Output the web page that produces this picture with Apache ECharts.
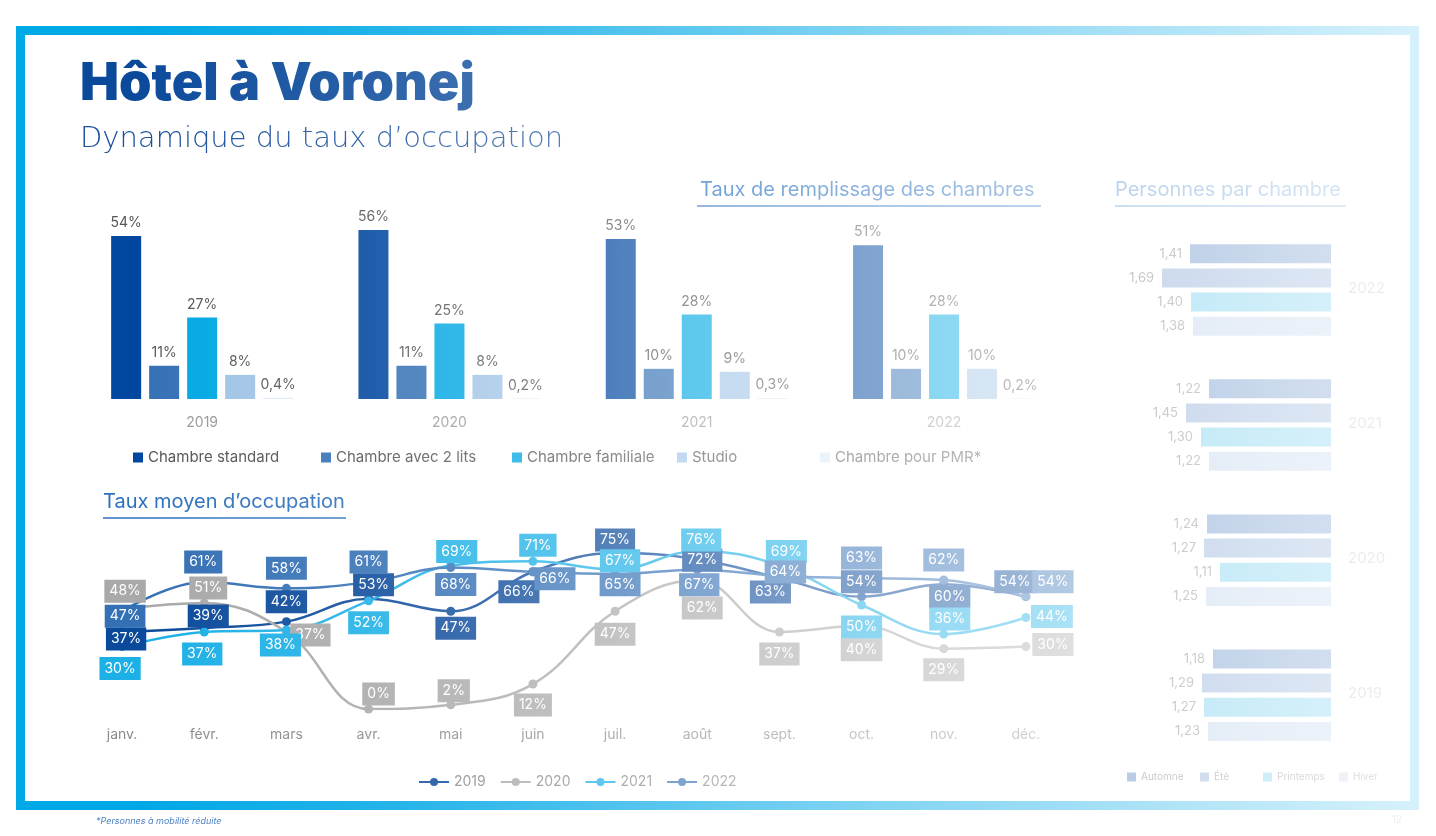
<!DOCTYPE html>
<html><head><meta charset="utf-8">
<script src="https://cdn.jsdelivr.net/npm/echarts@6/dist/echarts.min.js"></script>
<style>
html,body{margin:0;padding:0;background:#fff;}
#c{width:1436px;height:836px;position:absolute;left:0;top:0;}
#fade{position:absolute;left:0;top:0;width:1436px;height:836px;pointer-events:none;
background:linear-gradient(to right, rgba(255,255,255,0) 130px, rgba(255,255,255,0.13) 373px, rgba(255,255,255,0.5) 868px, rgba(255,255,255,0.85) 1436px);}
</style></head><body>
<div id="c"></div><div id="fade"></div>
<script>
// ---------- data ----------
const years = ['2019', '2020', '2021', '2022'];
const roomTypes = ['Chambre standard', 'Chambre avec 2 lits', 'Chambre familiale', 'Studio', 'Chambre pour PMR*'];
const fillStandard = [54, 56, 53, 51];
const fill2Lits = [11, 11, 10, 10];
const fillFamiliale = [27, 25, 28, 28];
const fillStudio = [8, 8, 9, 10];
const fillPMR = [0.4, 0.2, 0.3, 0.2];

const months = ['janv.', 'févr.', 'mars', 'avr.', 'mai', 'juin', 'juil.', 'août', 'sept.', 'oct.', 'nov.', 'déc.'];
const occ2019 = [37, 39, 42, 53, 47, 66, 75, 72, 63, 54, 60, 54];
const occ2020 = [48, 51, 37, 0, 2, 12, 47, 62, 37, 40, 29, 30];
const occ2021 = [30, 37, 38, 52, 69, 71, 67, 76, 69, 50, 36, 44];
const occ2022 = [47, 61, 58, 61, 68, 66, 65, 67, 64, 63, 62, 54];

const seasons = ['Automne', 'Été', 'Printemps', 'Hiver'];
const pers2019 = [1.18, 1.29, 1.27, 1.23];
const pers2020 = [1.24, 1.27, 1.11, 1.25];
const pers2021 = [1.22, 1.45, 1.30, 1.22];
const pers2022 = [1.41, 1.69, 1.40, 1.38];

// ---------- styles ----------
const FONT = 'Inter, "Open Sans", sans-serif';
const WIDE = '"DejaVu Sans", Inter, sans-serif';
const fmtPct = v => String(v).replace('.', ',') + '%';
const fmtDec = v => v.toFixed(2).replace('.', ',');

const barColors = ['#0047a0', '#3471b5', '#00a8e3', '#a0c4e6', '#dceaf8'];
const barSeriesData = [fillStandard, fill2Lits, fillFamiliale, fillStudio, fillPMR];
const barLegendLeft = [133, 321, 512, 677, 820];

const lineColors = ['#0b4a9b', '#a9a9a9', '#1cb0e6', '#3470b5'];
const lineSeriesData = [occ2019, occ2020, occ2021, occ2022];
const lineLabelOffsets = [
  [[4,7],[4,-12],[0,-20],[5,-14],[5,17],[-14,20],[0,-13],[5,1],[-9,14],[0,-15],[6,13],[-11,-15]],
  [[3,-18],[4,-15],[24,3],[10,-15],[3,-14],[0,21],[0,23],[5,28],[0,22],[0,24],[0,21],[27,-2]],
  [[-2,22],[-2,22],[-6,15],[0,22],[6,-14],[5,-16],[5,-9],[4,-11],[7,-14],[0,22],[6,-15],[26,-1]],
  [[3,5],[-1,-20],[0,-20],[0,-20],[5,17],[22,7],[5,11],[2,15],[6,-4],[0,-20],[0,-20],[27,-15]]
];

const seasonColors = ['#3069b4', '#628dc9', '#3ebbe6', '#a6c2e2'];
const persByYear = [pers2022, pers2021, pers2020, pers2019];
const persYearLabels = ['2022', '2021', '2020', '2019'];
const persGridTop = [241.6, 376.6, 511.8, 646.8];
const seasonLegendLeft = [1127, 1200, 1263, 1339];

// ---------- build option ----------
const grids = [
  { left: 78.5, width: 989.2, top: 218, height: 181 },
  { left: 81, width: 986, top: 501, height: 208 }
];
const xAxes = [
  { type: 'category', gridIndex: 0, data: years, axisLine: { show: false }, axisTick: { show: false },
    axisLabel: { color: '#999', fontSize: 14, fontFamily: FONT, margin: 17 } },
  { type: 'category', gridIndex: 1, data: months, boundaryGap: true, axisLine: { show: false }, axisTick: { show: false },
    axisLabel: { color: '#8a8a8a', fontSize: 14, fontFamily: FONT, margin: 19 } }
];
const yAxes = [
  { type: 'value', gridIndex: 0, min: 0, max: 60, show: false },
  { type: 'value', gridIndex: 1, min: 0, max: 100, show: false }
];
const series = [];

roomTypes.forEach((name, i) => {
  series.push({
    name, type: 'bar', xAxisIndex: 0, yAxisIndex: 0, data: barSeriesData[i],
    barWidth: 30, barGap: '26.67%',
    itemStyle: { color: barColors[i] },
    label: { show: true, position: 'top', distance: 6, color: '#555', fontSize: 14, fontFamily: FONT,
      formatter: p => fmtPct(p.value) }
  });
});

years.forEach((name, i) => {
  series.push({
    name, type: 'line', xAxisIndex: 1, yAxisIndex: 1, smooth: 0.4,
    symbol: 'circle', symbolSize: 9,
    lineStyle: { color: lineColors[i], width: 2.5 },
    itemStyle: { color: lineColors[i] },
    data: lineSeriesData[i].map((v, j) => ({
      value: v,
      label: { offset: lineLabelOffsets[i][j] }
    })),
    label: { show: true, position: 'inside', formatter: p => p.value + '%', color: '#fff',
      backgroundColor: lineColors[i], padding: [5, 5, 4, 5], fontSize: 14, fontFamily: FONT }
  });
});

persByYear.forEach((vals, g) => {
  const gi = grids.length;
  grids.push({ left: 1131, width: 200, top: persGridTop[g], height: 96.8 });
  xAxes.push({ type: 'value', gridIndex: gi, min: 0, max: 2, inverse: true, show: false });
  yAxes.push({ type: 'category', gridIndex: gi, data: seasons, inverse: true, show: false });
  seasons.forEach((s, k) => {
    series.push({
      name: s, type: 'bar', xAxisIndex: gi, yAxisIndex: gi, barWidth: 19, barGap: '-100%',
      data: vals.map((v, j) => j === k ? v : null),
      itemStyle: { color: seasonColors[k] },
      label: { show: true, position: 'left', distance: 8, color: '#575757', fontSize: 13, fontFamily: FONT,
        formatter: p => fmtDec(p.value) }
    });
  });
});

const legends = [];
roomTypes.forEach((name, i) => {
  legends.push({ data: [name], left: barLegendLeft[i], top: 450, padding: 0, icon: 'rect',
    itemWidth: 10, itemHeight: 10, itemGap: 6, selectedMode: false,
    textStyle: { color: '#555', fontSize: 15, fontFamily: FONT } });
});
legends.push({ data: years, left: 418, top: 775, padding: 0, itemWidth: 30, itemHeight: 10, itemGap: 14,
  selectedMode: false, textStyle: { color: '#888', fontSize: 14, fontFamily: FONT } });
seasons.forEach((name, i) => {
  legends.push({ data: [name], left: seasonLegendLeft[i], top: 772, padding: 0, icon: 'rect',
    itemWidth: 9, itemHeight: 9, itemGap: 5, selectedMode: false,
    textStyle: { color: '#555', fontSize: 10, fontFamily: FONT } });
});

const titles = [
  { text: 'Hôtel à Voronej', left: 80, top: 58, padding: 0,
    textStyle: { color: '#0b4a9b', fontSize: 52, lineHeight: 52, fontWeight: 900, fontFamily: FONT } },
  { text: 'Dynamique du taux d’occupation', left: 80, top: 125, padding: 0,
    textStyle: { color: '#1a4f9c', fontSize: 29, lineHeight: 29, fontWeight: 200, fontFamily: WIDE } },
  { text: 'Taux de remplissage des chambres', left: 700, top: 180, padding: 0,
    textStyle: { color: '#1d69bf', fontSize: 20, lineHeight: 20, fontWeight: 400, fontFamily: FONT } },
  { text: 'Personnes par chambre', left: 1115, top: 180, padding: 0,
    textStyle: { color: '#3a80c8', fontSize: 20, lineHeight: 20, fontWeight: 400, fontFamily: FONT } },
  { text: 'Taux moyen d’occupation', left: 103, top: 491.5, padding: 0,
    textStyle: { color: '#2d70bc', fontSize: 20, lineHeight: 20, fontWeight: 400, fontFamily: FONT } }
];

const graphics = [
  { type: 'rect', z: -1, shape: { x: 20.5, y: 30.5, width: 1394, height: 775 },
    style: { fill: 'none', stroke: '#00a8e6', lineWidth: 9 } },
  { type: 'line', shape: { x1: 103, y1: 518, x2: 346, y2: 518 }, style: { stroke: '#2d70bc', lineWidth: 1.5 } },
  { type: 'line', shape: { x1: 697, y1: 206, x2: 1041, y2: 206 }, style: { stroke: '#1d69bf', lineWidth: 1.5 } },
  { type: 'line', shape: { x1: 1115, y1: 206, x2: 1346, y2: 206 }, style: { stroke: '#3a80c8', lineWidth: 1.5 } },
  { type: 'text', left: 96, top: 817, style: { text: '*Personnes à mobilité réduite', fill: '#4a80c4',
    font: 'italic 9px ' + FONT } },
  { type: 'text', left: 1392, top: 815, style: { text: '12', fill: '#999', font: '10px ' + FONT } }
];
persYearLabels.forEach((t, g) => {
  graphics.push({ type: 'text', left: 1348, top: persGridTop[g] + 48.4 - 9,
    style: { text: t, fill: '#999', font: '15px ' + FONT } });
});

const chart = echarts.init(document.getElementById('c'), null, { renderer: 'canvas' });
chart.setOption({
  animation: false,
  backgroundColor: '#fff',
  title: titles,
  legend: legends,
  grid: grids,
  xAxis: xAxes,
  yAxis: yAxes,
  series,
  graphic: graphics
});
</script>
</body></html>
